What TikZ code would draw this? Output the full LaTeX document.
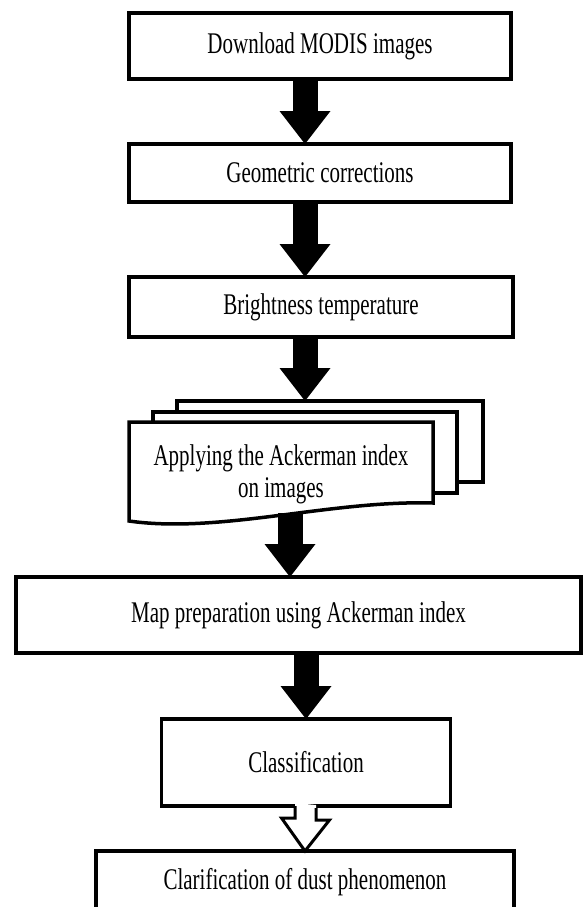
\documentclass[tikz,border=0pt]{standalone}
\usepackage{fontspec}
\setmainfont{Liberation Serif}[FakeStretch=0.7]
\usetikzlibrary{arrows.meta}

\begin{document}
\begin{tikzpicture}[x=1pt,y=-1pt,
  flowfont/.style={font=\fontsize{30}{32}\selectfont,align=center},
  procbox/.style={flowfont,draw,line width=3.5pt,fill=white,inner sep=0pt,outer sep=0pt},
  docpage/.style={draw,line width=3.5pt,fill=white,inner sep=0pt,outer sep=0pt},
  blockarrow/.style={line width=25pt,-{Triangle[width=51pt,length=33pt,line width=0pt]}}]
\clip (0,0) rectangle (584,907);
\coordinate (axis) at (305,0);
\node[procbox,minimum width=382pt,minimum height=66pt] (dl) at (320,46) {Download MODIS images};
\node[procbox,minimum width=382pt,minimum height=58pt] (geo) at (320,173) {Geometric corrections};
\node[procbox,minimum width=384pt,minimum height=60pt] (bt) at (321,307) {Brightness temperature};
\node[docpage,minimum width=306pt,minimum height=81pt] (pageback) at (330,441.5) {};
\node[docpage,minimum width=304pt,minimum height=81pt] (pagemid) at (305,452.5) {};
\draw[docpage] (129,422) -- (433,422) -- (433,503) .. controls (330,500) and (220,534) .. (129,521) -- cycle;
\node[flowfont] (apply) at (281,474) {Applying the Ackerman index\\on images};
\coordinate (wave) at (290,513);
\node[procbox,minimum width=565pt,minimum height=76pt] (map) at (298.5,615) {Map preparation using Ackerman index};
\node[procbox,minimum width=289pt,minimum height=87pt] (cls) at (306,762.5) {Classification};
\node[procbox,minimum width=418pt,minimum height=62pt] (clar) at (305,882) {Clarification of dust phenomenon};
\draw[blockarrow] (dl.south -| axis) -- (geo.north -| axis);
\draw[blockarrow] (geo.south -| axis) -- (bt.north -| axis);
\draw[blockarrow] (bt.south -| axis) -- (pageback.north -| axis);
\draw[blockarrow] (wave) -- (wave |- map.north);
\draw[blockarrow] (map.south -| cls.north) -- (cls.north);
\path[fill=white] ([xshift=-11pt,yshift=3pt]cls.south) -- ++(0,15) -- ++(-13.5,0) -- (clar.north) -- ++(24.5,-31) -- ++(-13.5,0) -- ++(0,-15) -- cycle;
\draw[line width=3pt] ([xshift=-11pt]cls.south) -- ++(0,12) -- ++(-13.5,0) -- (clar.north) -- ++(24.5,-31) -- ++(-13.5,0) -- ++(0,-12);
\end{tikzpicture}
\end{document}
